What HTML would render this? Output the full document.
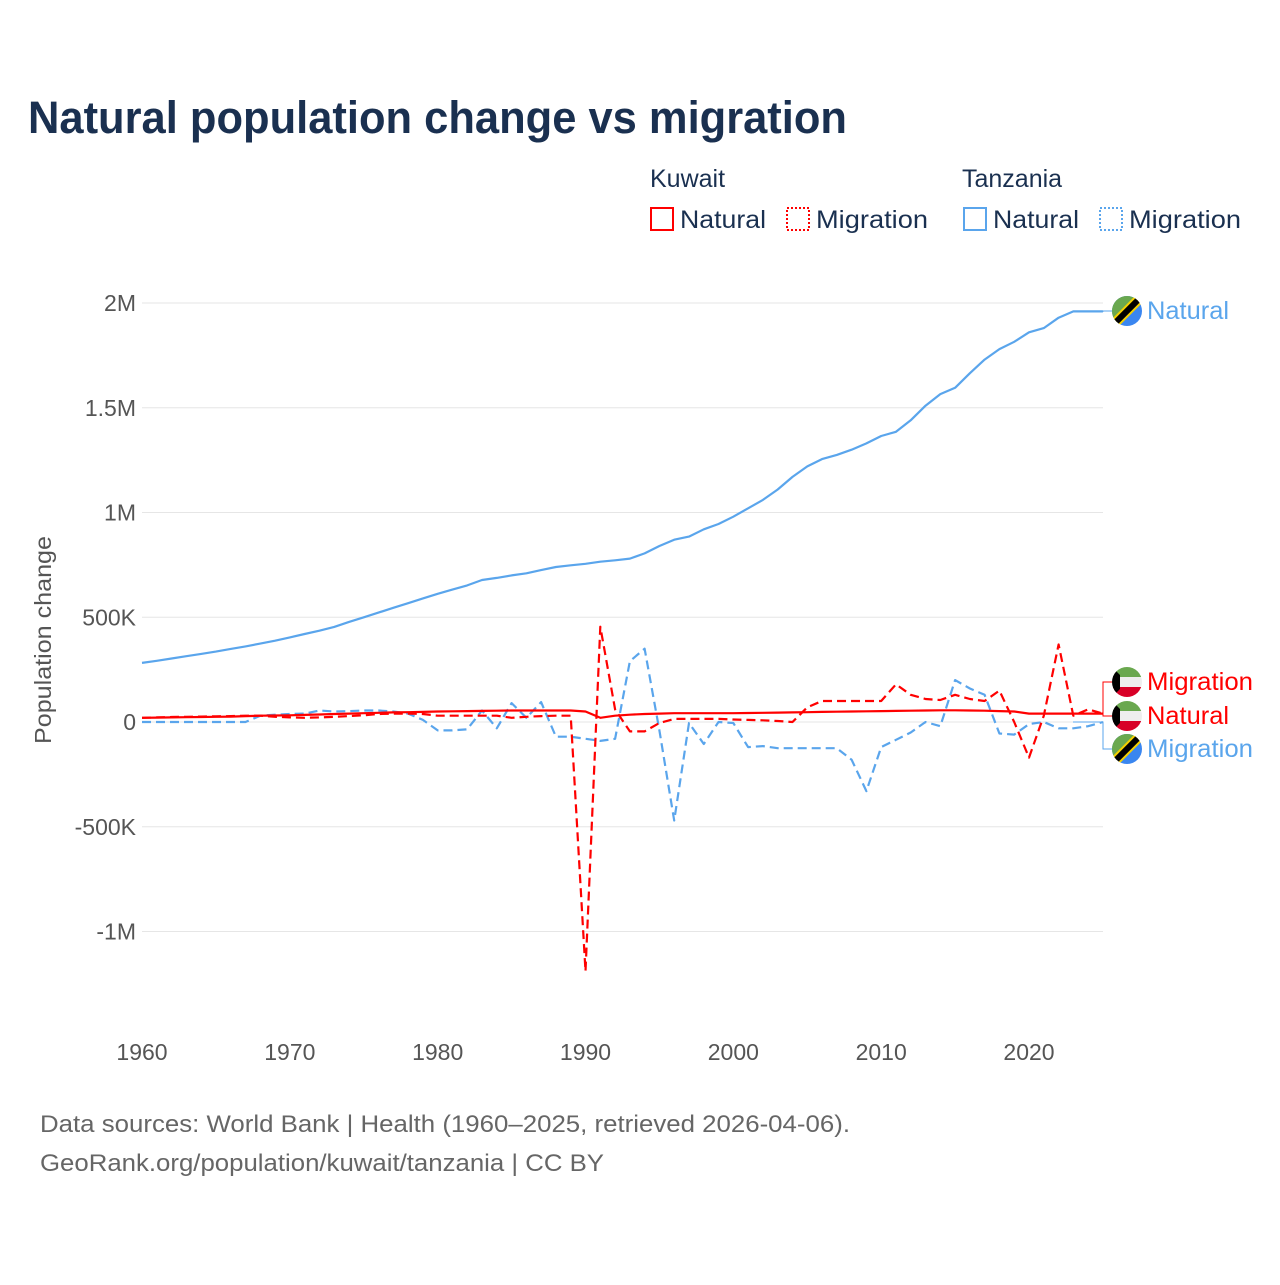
<!DOCTYPE html>
<html><head><meta charset="utf-8"><style>
body{margin:0;background:#fff;font-family:"Liberation Sans",sans-serif}
svg text{font-family:"Liberation Sans",sans-serif}
</style></head><body>
<svg id="c" width="1280" height="1280" viewBox="0 0 1280 1280" xmlns="http://www.w3.org/2000/svg">
<defs>
<clipPath id="fc"><circle cx="0" cy="0" r="15"/></clipPath>
<g id="tz"><g clip-path="url(#fc)"><rect x="-15" y="-15" width="30" height="30" fill="#3a86f0"/><polygon points="-15,-15 15,-15 -15,15" fill="#6aa84f"/><line x1="-15" y1="15" x2="15" y2="-15" stroke="#f5d000" stroke-width="10"/><line x1="-15" y1="15" x2="15" y2="-15" stroke="#000" stroke-width="6"/></g></g>
<g id="kw"><g clip-path="url(#fc)"><rect x="-15" y="-15" width="30" height="10" fill="#6aa84f"/><rect x="-15" y="-5" width="30" height="10" fill="#eee"/><rect x="-15" y="5" width="30" height="10" fill="#d80027"/><polygon points="-15,-15 -7,-7 -7,7 -15,15" fill="#000"/></g></g>
</defs>
<text x="28" y="133" font-size="45" font-weight="bold" fill="#1a3050" textLength="819" lengthAdjust="spacingAndGlyphs">Natural population change vs migration</text>
<g font-size="25" fill="#1a3050">
<text x="650" y="187">Kuwait</text>
<text x="962" y="187">Tanzania</text>
<g><rect x="651" y="208" width="22" height="22" fill="none" stroke="#f00" stroke-width="2"/><text x="680" y="228" textLength="86" lengthAdjust="spacingAndGlyphs">Natural</text></g>
<g><rect x="787" y="208" width="22" height="22" fill="none" stroke="#f00" stroke-width="2" stroke-dasharray="2,2"/><text x="816" y="228" textLength="112" lengthAdjust="spacingAndGlyphs">Migration</text></g>
<g><rect x="964" y="208" width="22" height="22" fill="none" stroke="#5aa5ec" stroke-width="2"/><text x="993" y="228" textLength="86" lengthAdjust="spacingAndGlyphs">Natural</text></g>
<g><rect x="1100" y="208" width="22" height="22" fill="none" stroke="#5aa5ec" stroke-width="2" stroke-dasharray="2,2"/><text x="1129" y="228" textLength="112" lengthAdjust="spacingAndGlyphs">Migration</text></g>
</g>
<g id="grid"></g><g id="series"></g><g id="labels"></g>
<text transform="translate(51,640) rotate(-90)" text-anchor="middle" font-size="23" fill="#555" textLength="208" lengthAdjust="spacingAndGlyphs">Population change</text>
<text x="40" y="1132" font-size="24" fill="#666" textLength="810" lengthAdjust="spacingAndGlyphs">Data sources: World Bank | Health (1960–2025, retrieved 2026-04-06).</text>
<text x="40" y="1171" font-size="24" fill="#666" textLength="564" lengthAdjust="spacingAndGlyphs">GeoRank.org/population/kuwait/tanzania | CC BY</text>
</svg>
<script>
const years=[];for(let y=1960;y<=2025;y++)years.push(y);
const yTicks=[2000,1500,1000,500,0,-500,-1000];
const yTickLabels=["2M","1.5M","1M","500K","0","-500K","-1M"];
const xTicks=[1960,1970,1980,1990,2000,2010,2020];
// values in thousands
const tzNat=[282,292,303,314,325,336,349,361,374,388,404,420,436,454,478,500,522,545,567,590,612,632,652,678,688,700,710,725,740,748,755,765,772,780,805,840,870,885,920,945,980,1020,1060,1110,1170,1220,1255,1275,1300,1330,1365,1385,1440,1510,1565,1595,1665,1730,1780,1815,1860,1880,1930,1960,1960,1960];
const kwNatural=[20,21,22,23,24,25,26,28,30,31,32,34,36,38,40,42,44,46,47,48,50,51,52,53,54,55,55,55,55,55,50,20,30,35,38,40,42,42,42,42,42,43,44,45,46,47,48,49,50,51,52,53,54,55,56,56,55,54,52,50,40,40,40,40,40,40];
const kwMigration=[20,22,24,25,26,27,28,30,30,25,22,20,22,25,28,32,38,40,40,38,30,30,30,30,30,20,25,28,30,30,-1190,455,60,-45,-45,-5,15,15,15,15,12,10,8,5,0,70,100,100,100,100,100,180,130,110,105,130,110,100,150,0,-170,30,370,30,60,40];
const tzMigration=[0,0,0,0,0,0,0,0,30,35,38,40,55,50,52,55,55,50,40,10,-40,-40,-35,55,-30,90,20,95,-70,-70,-80,-90,-80,290,350,-40,-470,-5,-105,0,-5,-120,-115,-125,-125,-125,-125,-125,-180,-330,-120,-85,-50,0,-20,200,160,130,-55,-60,-10,0,-30,-30,-20,0];
const X=y=>142+(y-1960)*(1029-142)/60;
const Y=v=>722-v*0.2095;
const ns="http://www.w3.org/2000/svg";
function mk(t,a,p){const e=document.createElementNS(ns,t);for(const k in a)e.setAttribute(k,a[k]);p.appendChild(e);return e;}
const grid=document.getElementById('grid');
yTicks.forEach((v,i)=>{
 const l=mk('line',{x1:142,x2:1103,y1:Y(v),y2:Y(v),stroke:'#e6e6e6','stroke-width':1},grid);
 
 
 const t=mk('text',{x:136,y:Y(v)+8,'text-anchor':'end','font-size':23,fill:'#555'},grid);
 t.textContent=yTickLabels[i];
 
 
});
xTicks.forEach(y=>{
 const t=mk('text',{x:X(y),y:1060,'text-anchor':'middle','font-size':23,fill:'#555'},grid);
 t.textContent=y;
 
 
});
const ser=document.getElementById('series');
function line(vals,color,dash,name){
 const d=vals.map((v,i)=>(i?'L':'M')+X(years[i]).toFixed(1)+','+Y(v).toFixed(1)).join('');
 const p=mk('path',{d:d,fill:'none',stroke:color,'stroke-width':2.2,'stroke-linejoin':'round'},ser);
 if(dash)p.setAttribute('stroke-dasharray','9,5');
 
 
}
line(tzNat,'#5aa5ec',false,'tanzania-natural-line');
line(tzMigration,'#5aa5ec',true,'tanzania-migration-line');
line(kwNatural,'#f00',false,'kuwait-natural-line');
line(kwMigration,'#f00',true,'kuwait-migration-line');
const lab=document.getElementById('labels');
const ends=[[tzNat,'#5aa5ec',311,'tz','Natural','label-tanzania-natural',82],[kwMigration,'#f00',682,'kw','Migration','label-kuwait-migration',106],[kwNatural,'#f00',716,'kw','Natural','label-kuwait-natural',82],[tzMigration,'#5aa5ec',749,'tz','Migration','label-tanzania-migration',106]];
ends.forEach(e=>{
 const y0=Y(e[0][e[0].length-1]);
 mk('path',{d:`M1073,${y0}H1103V${e[2]}H1112`,fill:'none',stroke:e[1],'stroke-width':1},lab);
 const u=mk('use',{href:'#'+e[3],x:1127,y:e[2]},lab);
 
 
 const t=mk('text',{x:1147,y:e[2]+8,'font-size':25,fill:e[1],textLength:e[6],lengthAdjust:'spacingAndGlyphs'},lab);
 t.textContent=e[4];
 
 
});
</script>
</body></html>
